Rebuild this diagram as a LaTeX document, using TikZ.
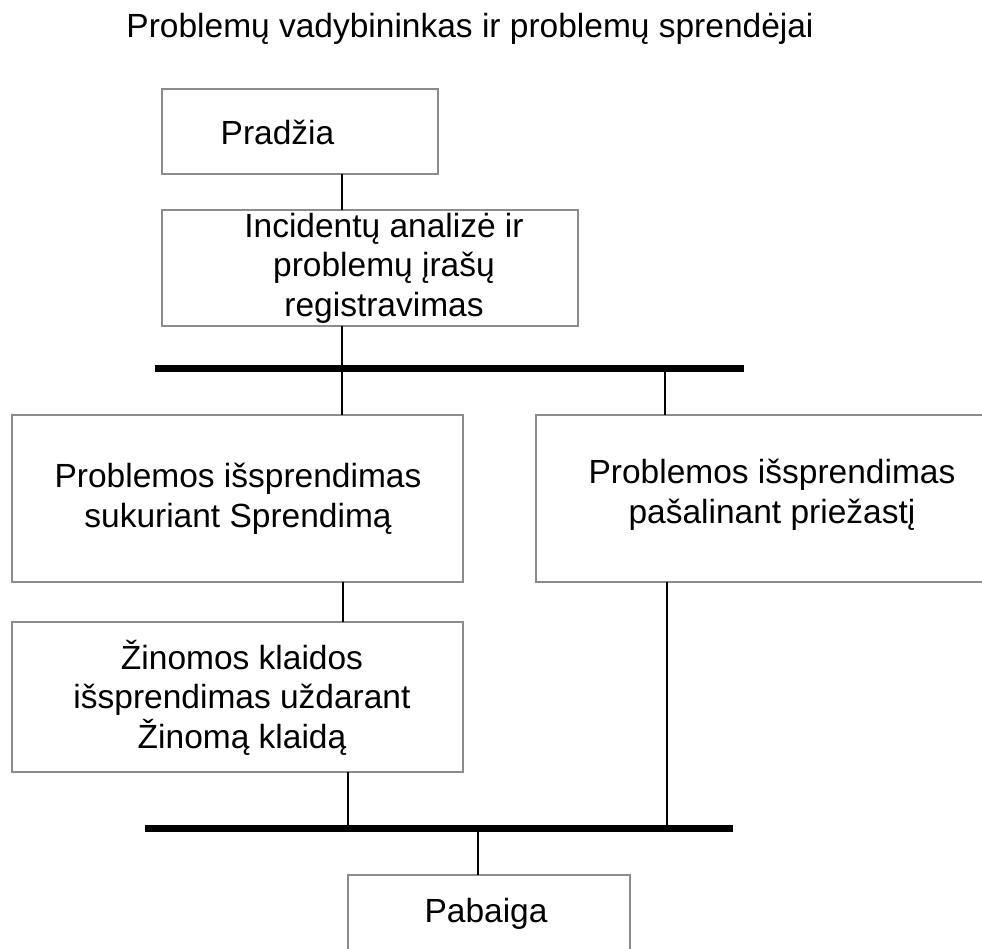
\documentclass[tikz,border=0pt]{standalone}
\usepackage{fontspec}
\setmainfont{Liberation Sans}
\definecolor{boxgray}{HTML}{8C8C8C}
\begin{document}
\begin{tikzpicture}[x=1pt,y=-1pt,
  box/.style={draw=boxgray, line width=1.5pt, rectangle, inner sep=0pt, outer sep=0pt},
  conn/.style={line width=2.5pt, black},
  barline/.style={line width=7pt, black},
  txt/.style={font=\fontsize{33.5}{39.5}\selectfont, align=center, inner sep=0pt, anchor=base}]
\useasboundingbox (0,0) rectangle (982,948);
% boxes
\node[box, minimum width=276pt, minimum height=85pt]  (pradzia)  at (300,131.5) {};
\node[box, minimum width=416pt, minimum height=116pt] (incident) at (370,268) {};
\node[box, minimum width=451pt, minimum height=167pt] (leftbox)  at (237.5,498.5) {};
\node[box, minimum width=464pt, minimum height=167pt] (rightbox) at (768,498.5) {};
\node[box, minimum width=451pt, minimum height=150pt] (zinoma)   at (237.5,697) {};
\node[box, minimum width=282pt, minimum height=90pt]  (pabaiga)  at (489,920) {};
% texts (base anchor = baseline of the last line)
\node[txt] (title) at (470,37) {Problemų vadybininkas ir problemų sprendėjai};
\node[txt] (tpradzia) at (277.5,144.5) {Pradžia};
\node[txt] (tincident) at (384,316) {Incidentų analizė ir\\problemų įrašų\\registravimas};
\node[txt] (tleft) at (238,527) {Problemos išsprendimas\\sukuriant Sprendimą};
\node[txt] (tright) at (772,523) {Problemos išsprendimas\\pašalinant priežastį};
\node[txt] (tzinoma) at (242,748) {Žinomos klaidos\\išsprendimas uždarant\\Žinomą klaidą};
\node[txt] (tpabaiga) at (486,922) {Pabaiga};
% bars
\coordinate (topL) at (155,368.5);
\coordinate (topR) at (744,368.5);
\coordinate (botL) at (145,828.5);
\coordinate (botR) at (733,828.5);
\draw[barline] (topL) -- (topR);
\draw[barline] (botL) -- (botR);
% connector columns
\coordinate (c1) at (342,0);
\coordinate (c2) at (665,0);
\coordinate (c3) at (343,0);
\coordinate (c4) at (348,0);
\coordinate (c5) at (667,0);
\coordinate (c6) at (478,0);
\draw[conn] (pradzia.south -| c1) -- (incident.north -| c1);
\draw[conn] (incident.south -| c1) -- (topL -| c1);
\draw[conn] (topL -| c1) -- (leftbox.north -| c1);
\draw[conn] (topL -| c2) -- (rightbox.north -| c2);
\draw[conn] (leftbox.south -| c3) -- (zinoma.north -| c3);
\draw[conn] (zinoma.south -| c4) -- (botL -| c4);
\draw[conn] (rightbox.south -| c5) -- (botL -| c5);
\draw[conn] (botL -| c6) -- (pabaiga.north -| c6);
\end{tikzpicture}
\end{document}
